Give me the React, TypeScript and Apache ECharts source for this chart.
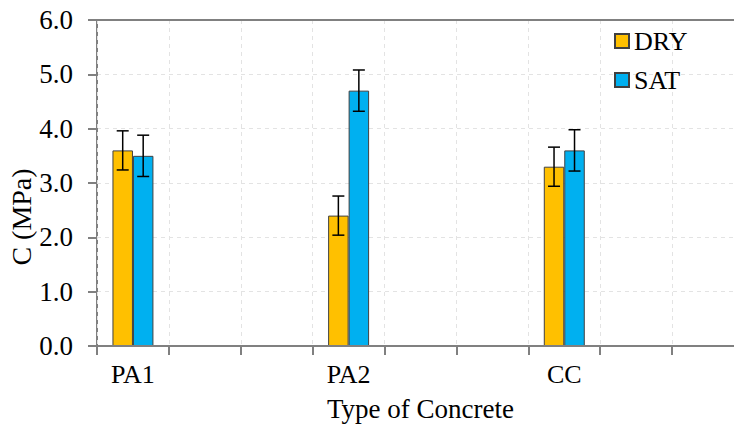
import React, { useEffect, useRef } from "react";
import * as echarts from "echarts";

const categories = ["PA1", "", "", "PA2", "", "", "CC", "", ""];
const dryValues = [3.6, null, null, 2.4, null, null, 3.3, null, null];
const satValues = [3.5, null, null, 4.7, null, null, 3.6, null, null];
const dryErrors = [0.36, null, null, 0.36, null, null, 0.36, null, null];
const satErrors = [0.38, null, null, 0.38, null, null, 0.38, null, null];
const yTicks = [0, 1, 2, 3, 4, 5, 6];

const FONT = "Liberation Serif";
const GAP = 0.43;

function errData(vals: (number | null)[], errs: (number | null)[]) {
  const out: number[][] = [];
  vals.forEach((v, i) => {
    if (v != null && errs[i] != null) out.push([i, v, errs[i] as number]);
  });
  return out;
}

function makeErr(sign: number) {
  return (params: any, api: any) => {
    const i = api.value(0);
    const v = api.value(1);
    const e = api.value(2);
    const band = api.size([1, 0])[0];
    const w = (band * (1 - GAP)) / 2;
    const top = api.coord([i, v + e]);
    const bot = api.coord([i, v - e]);
    const x = top[0] + (sign * w) / 2;
    const cap = 6;
    const style = { stroke: "#000", lineWidth: 1.5 };
    return {
      type: "group",
      children: [
        { type: "line", shape: { x1: x, y1: top[1], x2: x, y2: bot[1] }, style },
        { type: "line", shape: { x1: x - cap, y1: top[1], x2: x + cap, y2: top[1] }, style },
        { type: "line", shape: { x1: x - cap, y1: bot[1], x2: x + cap, y2: bot[1] }, style },
      ],
    };
  };
}

export default function App() {
  const ref = useRef<HTMLDivElement>(null);
  useEffect(() => {
    if (!ref.current) return;
    const chart = echarts.init(ref.current, undefined, { renderer: "svg" });
    chart.setOption({
      animation: false,
      backgroundColor: "#fff",
      grid: { left: 97, top: 20, bottom: 80, right: -10, containLabel: false, outerBoundsMode: "none" },
      legend: {
        data: ["DRY", "SAT"],
        orient: "vertical",
        left: 609,
        top: 23,
        icon: "rect",
        itemWidth: 14,
        itemHeight: 14,
        itemGap: 13,
        textStyle: { fontFamily: FONT, fontSize: 26, color: "#000" },
      },
      xAxis: [
        {
          type: "category",
          data: categories,
          name: "Type of Concrete",
          nameLocation: "middle",
          nameGap: 49,
          nameMoveOverlap: false,
          nameTextStyle: { fontFamily: FONT, fontSize: 27, color: "#000" },
          axisLine: { lineStyle: { color: "#808080", width: 2 } },
          axisTick: { show: true, length: 9, interval: 0, lineStyle: { color: "#808080", width: 2 } },
          axisLabel: { interval: 0, margin: 15, fontFamily: FONT, fontSize: 26, color: "#000" },
          splitLine: { show: true, interval: 0, lineStyle: { color: "#e3e3e3", type: [4, 4], width: 1 } },
          z: 3,
        },
        {
          type: "category",
          data: categories,
          position: "top",
          axisLine: { show: true, lineStyle: { color: "#808080", width: 2 } },
          axisTick: { show: false },
          axisLabel: { show: false },
          splitLine: { show: false },
          z: 3,
        },
      ],
      yAxis: {
        type: "value",
        min: 0,
        max: 6,
        interval: 1,
        name: "C (MPa)",
        nameLocation: "middle",
        nameRotate: 90,
        nameGap: 62,
        nameMoveOverlap: false,
        nameTextStyle: { fontFamily: FONT, fontSize: 28, color: "#000", padding: [0, 68, 0, 0] },
        axisLine: { show: true, lineStyle: { color: "#808080", width: 2 } },
        axisTick: { show: true, length: 9, lineStyle: { color: "#808080", width: 2 } },
        axisLabel: {
          margin: 24,
          fontFamily: FONT,
          fontSize: 27,
          color: "#000",
          formatter: (v: number) => (yTicks.includes(v) ? v.toFixed(1) : ""),
        },
        splitLine: { show: true, lineStyle: { color: "#e3e3e3", type: [4, 4], width: 1 } },
      },
      series: [
        {
          name: "DRY",
          type: "bar",
          data: dryValues,
          barGap: "0%",
          barCategoryGap: GAP * 100 + "%",
          itemStyle: { color: "#FFC000", borderColor: "#404040", borderWidth: 1 },
        },
        {
          name: "SAT",
          type: "bar",
          data: satValues,
          barGap: "0%",
          barCategoryGap: GAP * 100 + "%",
          itemStyle: { color: "#00B0F0", borderColor: "#404040", borderWidth: 1 },
        },
        {
          name: "DRY error",
          type: "custom",
          data: errData(dryValues, dryErrors),
          encode: { x: 0, y: 1 },
          renderItem: makeErr(-1),
          z: 5,
        },
        {
          name: "SAT error",
          type: "custom",
          data: errData(satValues, satErrors),
          encode: { x: 0, y: 1 },
          renderItem: makeErr(1),
          z: 5,
        },
      ],
    });
    return () => chart.dispose();
  }, []);
  return (
    <div style={{ position: "fixed", left: 0, top: 0, width: 734, height: 426, overflow: "hidden", background: "#fff" }}>
      <div ref={ref} style={{ width: 734, height: 426 }} />
    </div>
  );
}
